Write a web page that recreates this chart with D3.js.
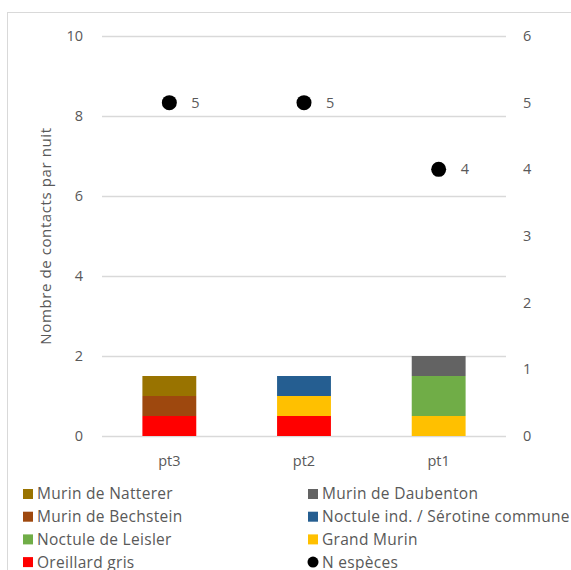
<!DOCTYPE html>
<html>
<head>
<meta charset="utf-8">
<script src="https://cdn.jsdelivr.net/npm/d3@7"></script>
<style>
  html, body { margin: 0; padding: 0; background: #fff; }
  svg { display: block; }
  text { font-family: "Open Sans", "DejaVu Sans", sans-serif; fill: #595959; }
</style>
</head>
<body>
<svg id="chart" width="571" height="570"></svg>
<script>
// Sites, left to right
const sites = ["pt3", "pt2", "pt1"];

// Species stacked from the bottom of each bar upward
const species = [
  "Oreillard gris",
  "Grand Murin",
  "Noctule de Leisler",
  "Noctule ind. / Sérotine commune",
  "Murin de Bechstein",
  "Murin de Daubenton",
  "Murin de Natterer"
];
const speciesColors = ["#FF0000", "#FFC000", "#70AD47", "#255E91", "#9E480E", "#636363", "#997300"];

// Contacts per night, one array per species, in site order
const oreillardGris   = [0.5, 0.5, 0];
const grandMurin      = [0, 0.5, 0.5];
const noctuleLeisler  = [0, 0, 1.0];
const noctuleSerotine = [0, 0.5, 0];
const murinBechstein  = [0.5, 0, 0];
const murinDaubenton  = [0, 0, 0.5];
const murinNatterer   = [0.5, 0, 0];

// Number of species per site (secondary axis)
const nEspeces = [5, 5, 4];

// Axis ticks
const leftTicks = [0, 2, 4, 6, 8, 10];
const rightTicks = [0, 1, 2, 3, 4, 5, 6];

// Legend order (two columns, read row by row)
const legendItems = [
  "Murin de Natterer", "Murin de Daubenton",
  "Murin de Bechstein", "Noctule ind. / Sérotine commune",
  "Noctule de Leisler", "Grand Murin",
  "Oreillard gris", "N espèces"
];

const seriesValues = [oreillardGris, grandMurin, noctuleLeisler, noctuleSerotine,
                      murinBechstein, murinDaubenton, murinNatterer];
const rows = sites.map((s, i) => {
  const r = { site: s };
  species.forEach((sp, k) => { r[sp] = seriesValues[k][i]; });
  return r;
});

const svg = d3.select("#chart");
const plot = { left: 102, right: 506, top: 36, bottom: 436 };

// Outer chart frame
svg.append("rect")
  .attr("x", 7.5).attr("y", 12.5)
  .attr("width", 700).attr("height", 700)
  .attr("fill", "none").attr("stroke", "#D9D9D9").attr("stroke-width", 1);

const x = d3.scaleBand().domain(sites).range([plot.left, plot.right]).padding(0);
const y = d3.scaleLinear().domain([0, 10]).range([plot.bottom, plot.top]);
const y2 = d3.scaleLinear().domain([0, 6]).range([plot.bottom, plot.top]);
const color = d3.scaleOrdinal().domain(species).range(speciesColors);

// Gridlines
svg.append("g").selectAll("line").data(leftTicks).join("line")
  .attr("x1", plot.left).attr("x2", plot.right)
  .attr("y1", d => Math.round(y(d)) + 0.5).attr("y2", d => Math.round(y(d)) + 0.5)
  .attr("stroke", "#D9D9D9").attr("stroke-width", 1.3);

const styleTicks = sel => sel.selectAll("text")
  .style("font-size", "14.5px").attr("fill", "#595959")
  .style("font-family", "'Open Sans', sans-serif");

// Left axis labels
const leftAxis = d3.axisLeft(y).tickValues(leftTicks).tickFormat(d3.format("d"))
  .tickSize(0).tickPadding(0);
svg.append("g").attr("transform", `translate(83,0)`).call(leftAxis)
  .call(g => g.select(".domain").remove())
  .call(styleTicks);

// Right axis labels
const rightAxis = d3.axisRight(y2).tickValues(rightTicks).tickFormat(d3.format("d"))
  .tickSize(0).tickPadding(0);
svg.append("g").attr("transform", `translate(523,0)`).call(rightAxis)
  .call(g => g.select(".domain").remove())
  .call(styleTicks);

// Category labels
const bottomAxis = d3.axisBottom(x).tickSize(0).tickPadding(0);
svg.append("g").attr("transform", `translate(0,456)`).call(bottomAxis)
  .call(g => g.select(".domain").remove())
  .call(styleTicks);

// Y axis title
svg.append("text")
  .attr("transform", `translate(51,${(plot.top + plot.bottom) / 2}) rotate(-90)`)
  .attr("text-anchor", "middle")
  .style("font-size", "15px")
  .style("letter-spacing", "0.6px")
  .text("Nombre de contacts par nuit");

// Stacked bars
const barW = x.bandwidth() * 0.4;
const stacked = d3.stack().keys(species)(rows);
svg.append("g").selectAll("g").data(stacked).join("g")
  .attr("fill", d => color(d.key))
  .selectAll("rect").data(d => d.filter(p => p[1] - p[0] > 0)).join("rect")
  .attr("x", d => x(d.data.site) + (x.bandwidth() - barW) / 2)
  .attr("width", barW)
  .attr("y", d => y(d[1]))
  .attr("height", d => y(d[0]) - y(d[1]));

// Species count markers with value labels
const cx = s => x(s) + x.bandwidth() / 2;
const pts = svg.append("g");
pts.selectAll("circle").data(sites).join("circle")
  .attr("cx", d => cx(d))
  .attr("cy", (d, i) => y2(nEspeces[i]))
  .attr("r", 7.5).attr("fill", "#000");
pts.selectAll("text").data(sites).join("text")
  .attr("x", d => cx(d) + 22)
  .attr("y", (d, i) => y2(nEspeces[i]))
  .attr("dy", "0.35em")
  .style("font-size", "14.5px")
  .text((d, i) => nEspeces[i]);

// Legend
const legend = svg.append("g");
const colX = [23, 308];
const rowY0 = 494, rowStep = 22.7;
legendItems.forEach((name, i) => {
  const gx = colX[i % 2];
  const gy = rowY0 + Math.floor(i / 2) * rowStep;
  if (name === "N espèces") {
    legend.append("circle").attr("cx", gx + 5).attr("cy", gy).attr("r", 5.5).attr("fill", "#000");
  } else {
    legend.append("rect").attr("x", gx).attr("y", gy - 5).attr("width", 10).attr("height", 10)
      .attr("fill", color(name));
  }
  legend.append("text")
    .attr("x", gx + 14).attr("y", gy).attr("dy", "0.35em")
    .style("font-size", "15.5px")
    .style("letter-spacing", "0.3px")
    .text(name);
});
</script>
</body>
</html>
